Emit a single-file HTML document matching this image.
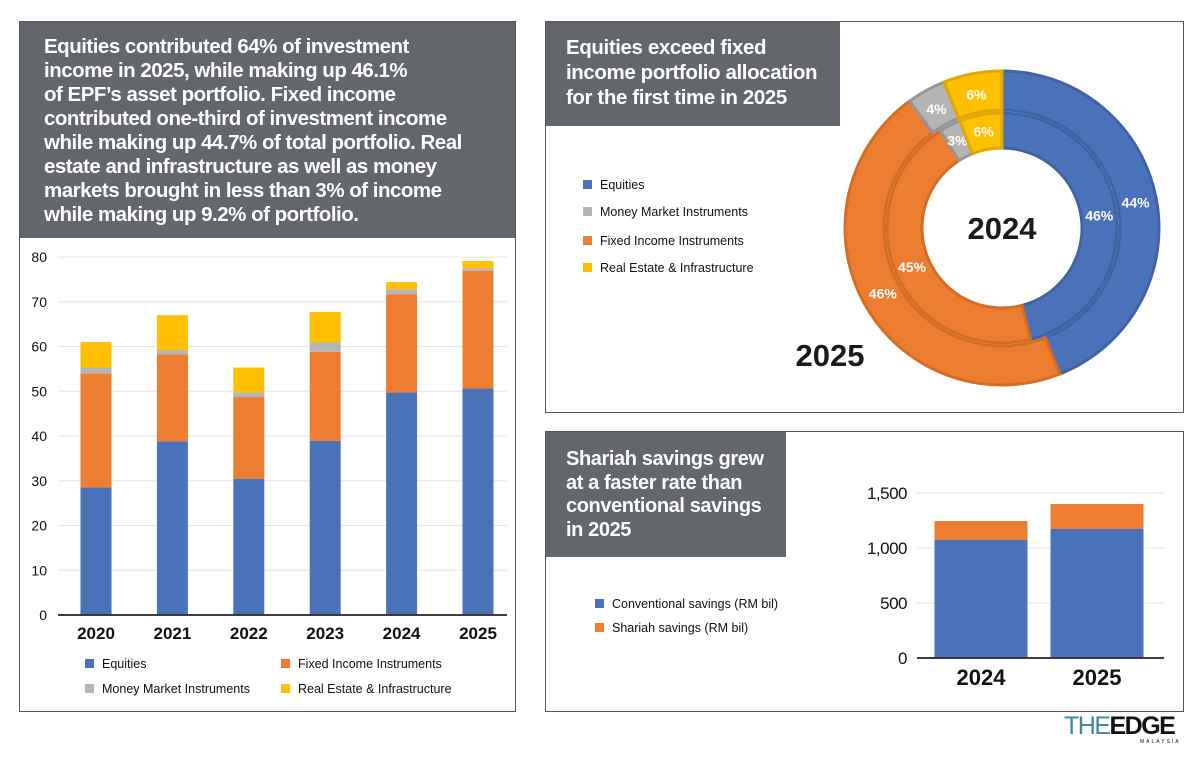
<!DOCTYPE html>
<html><head><meta charset="utf-8">
<style>
body{margin:0;width:1200px;height:768px;background:#fff;position:relative;overflow:hidden;font-family:"Liberation Sans",sans-serif}
.panel{position:absolute;border:1.5px solid #555;box-sizing:border-box;background:#fff}
.hdr{position:absolute;background:#63676b;color:#fff;font-weight:bold;box-sizing:border-box}
.hdr div{white-space:nowrap}
.leg{position:absolute;font-size:12.5px;color:#111;white-space:nowrap}
.leg span{display:inline-block;width:9px;height:9px;margin-right:8px;vertical-align:-0px}
svg text{font-family:"Liberation Sans",sans-serif}
</style></head><body>
<div class="panel" style="left:19px;top:21px;width:497px;height:691px"></div>
<div class="hdr" style="left:20px;top:22px;width:495px;height:216px;padding:13px 0 0 24px;font-size:20.5px;line-height:24px;letter-spacing:-0.5px">
<div>Equities contributed 64% of investment</div><div>income in 2025, while making up 46.1%</div><div>of EPF’s asset portfolio. Fixed income</div><div>contributed one-third of investment income</div><div>while making up 44.7% of total portfolio. Real</div><div>estate and infrastructure as well as money</div><div>markets brought in less than 3% of income</div><div>while making up 9.2% of portfolio.</div></div>
<div class="panel" style="left:545px;top:21px;width:639px;height:392px"></div>
<div class="hdr" style="left:546px;top:22px;width:294px;height:104px;padding:13px 0 0 20px;font-size:20.5px;line-height:25px;letter-spacing:-0.4px">
<div>Equities exceed fixed</div><div>income portfolio allocation</div><div>for the first time in 2025</div></div>
<div class="panel" style="left:545px;top:431px;width:639px;height:281px"></div>
<div class="hdr" style="left:546px;top:432px;width:240px;height:125px;padding:16px 0 0 20px;font-size:20px;line-height:23.5px;letter-spacing:-0.4px">
<div>Shariah savings grew</div><div>at a faster rate than</div><div>conventional savings</div><div>in 2025</div></div>

<div class="leg" style="left:85px;top:657px"><span style="background:#4a72b8"></span>Equities</div>
<div class="leg" style="left:281px;top:657px"><span style="background:#ed7d31"></span>Fixed Income Instruments</div>
<div class="leg" style="left:85px;top:682px"><span style="background:#b5b5b5"></span>Money Market Instruments</div>
<div class="leg" style="left:281px;top:682px"><span style="background:#ffc000"></span>Real Estate &amp; Infrastructure</div>

<div class="leg" style="left:583px;top:178px"><span style="background:#4a72b8"></span>Equities</div>
<div class="leg" style="left:583px;top:205px"><span style="background:#b5b5b5"></span>Money Market Instruments</div>
<div class="leg" style="left:583px;top:234px"><span style="background:#ed7d31"></span>Fixed Income Instruments</div>
<div class="leg" style="left:583px;top:261px"><span style="background:#ffc000"></span>Real Estate &amp; Infrastructure</div>

<div class="leg" style="left:595px;top:597px"><span style="background:#4a72b8"></span>Conventional savings (RM bil)</div>
<div class="leg" style="left:595px;top:621px"><span style="background:#ed7d31"></span>Shariah savings (RM bil)</div>

<div style="position:absolute;left:1064px;top:712px;font-size:25px;letter-spacing:-1.5px;white-space:nowrap"><span style="color:#3b8a9c">THE</span><span style="font-weight:bold;color:#111">EDGE</span></div>
<div style="position:absolute;left:1140px;top:739px;font-size:5px;letter-spacing:2px;color:#111">MALAYSIA</div>

<svg id="chart" width="1200" height="768" style="position:absolute;left:0;top:0"></svg>
<script>
const years=["2020","2021","2022","2023","2024","2025"];
const equities=[28.5,38.8,30.4,38.9,49.7,50.6];
const fixedIncome=[25.5,19.4,18.3,19.9,22.0,26.3];
const moneyMarket=[1.2,1.0,1.0,2.1,1.1,0.6];
const realEstate=[5.8,7.8,5.6,6.8,1.6,1.6];
const yTicks=[0,10,20,30,40,50,60,70,80];

const ringLabels=["2025","2024"];
const share2025=[44,46,4,6];
const share2024=[46,45,3,6];

const savYears=["2024","2025"];
const conventional=[1073,1173];
const shariah=[172,227];
const savTicks=[0,500,1000,1500];

const NS="http://www.w3.org/2000/svg";
const svg=document.getElementById('chart');
function mk(tag,attrs,parent){const e=document.createElementNS(NS,tag);for(const k in attrs)e.setAttribute(k,attrs[k]);(parent||svg).appendChild(e);return e;}
const colors=["#4a72b8","#ed7d31","#b5b5b5","#ffc000"];

const y1=v=>615-v*(358/80);
const x1=i=>96+i*76.4;
yTicks.forEach(t=>{
 const l=mk('line',{x1:58,x2:507,y1:y1(t),y2:y1(t),stroke:t?"#e4e4e4":"#222","stroke-width":t?1:1.5});
 
 
 const tx=mk('text',{x:47,y:y1(t)+5,"text-anchor":"end","font-size":14,fill:"#111"});
 tx.textContent=t;
 
 
});
const series=[equities,fixedIncome,moneyMarket,realEstate];
const snames=["equities","fixed-income","money-market","real-estate"];
years.forEach((yr,i)=>{
 let base=0;
 series.forEach((s,k)=>{
  const r=mk('rect',{x:x1(i)-15.5,width:31,y:y1(base+s[i]),height:y1(base)-y1(base+s[i]),fill:colors[k]});
  
  
  base+=s[i];
 });
 const tx=mk('text',{x:x1(i),y:639,"text-anchor":"middle","font-size":17,"font-weight":"bold",fill:"#111"});
 tx.textContent=yr;
 
 
});
const ax=mk('line',{x1:58,x2:507,y1:615,y2:615,stroke:"#222","stroke-width":1.5});



const cx=1002,cy=228;
const dark=["#3f63a3","#d66d25","#959595","#e0a800"];
function arc(r0,r1,a0,a1){
 const p=(r,a)=>[cx+r*Math.sin(a*Math.PI/180),cy-r*Math.cos(a*Math.PI/180)];
 const lg=(a1-a0)>180?1:0;
 const A=p(r1,a0),B=p(r1,a1),C=p(r0,a1),D=p(r0,a0);
 return `M${A}A${r1},${r1} 0 ${lg} 1 ${B}L${C}A${r0},${r0} 0 ${lg} 0 ${D}Z`;
}
[[share2025,118,157,136,"outer"],[share2024,80,115,98,"inner"]].forEach(([sh,r0,r1,rl,nm])=>{
 let a=0;
 sh.forEach((v,k)=>{
  const a1=a+v*3.6;
  const p=mk('path',{d:arc(r0,r1,a,a1),fill:colors[k],stroke:dark[k],"stroke-width":3});
  
  
  const m=(a+a1)/2*Math.PI/180;
  const t=mk('text',{x:cx+rl*Math.sin(m),y:cy-rl*Math.cos(m)+5,"text-anchor":"middle","font-size":14,"font-weight":"bold",fill:"#fff"});
  t.textContent=v+"%";
  
  
  a=a1;
 });
});
const c24=mk('text',{x:cx,y:cy+11,"text-anchor":"middle","font-size":31,"font-weight":"bold",fill:"#1a1a1a"});
c24.textContent=ringLabels[1];


const c25=mk('text',{x:830,y:366,"text-anchor":"middle","font-size":31,"font-weight":"bold",fill:"#1a1a1a"});
c25.textContent=ringLabels[0];



const y2=v=>658-v*(165/1500);
const x2=i=>981+i*116;
savTicks.forEach(t=>{
 const l=mk('line',{x1:917,x2:1164,y1:y2(t),y2:y2(t),stroke:t?"#e4e4e4":"#222","stroke-width":t?1:1.5});
 
 
 const tx=mk('text',{x:907,y:y2(t)+6,"text-anchor":"end","font-size":17,fill:"#111","letter-spacing":"-0.5"});
 tx.textContent=t.toLocaleString('en-US');
 
 
});
savYears.forEach((yr,i)=>{
 const b1=mk('rect',{x:x2(i)-46.5,width:93,y:y2(conventional[i]),height:y2(0)-y2(conventional[i]),fill:"#4a72b8"});
 
 
 const b2=mk('rect',{x:x2(i)-46.5,width:93,y:y2(conventional[i]+shariah[i]),height:y2(conventional[i])-y2(conventional[i]+shariah[i]),fill:"#ed7d31"});
 
 
 const tx=mk('text',{x:x2(i),y:685,"text-anchor":"middle","font-size":22,"font-weight":"bold",fill:"#111"});
 tx.textContent=yr;
 
 
});
const ax2=mk('line',{x1:917,x2:1164,y1:658,y2:658,stroke:"#222","stroke-width":1.5});


</script>
</body></html>
